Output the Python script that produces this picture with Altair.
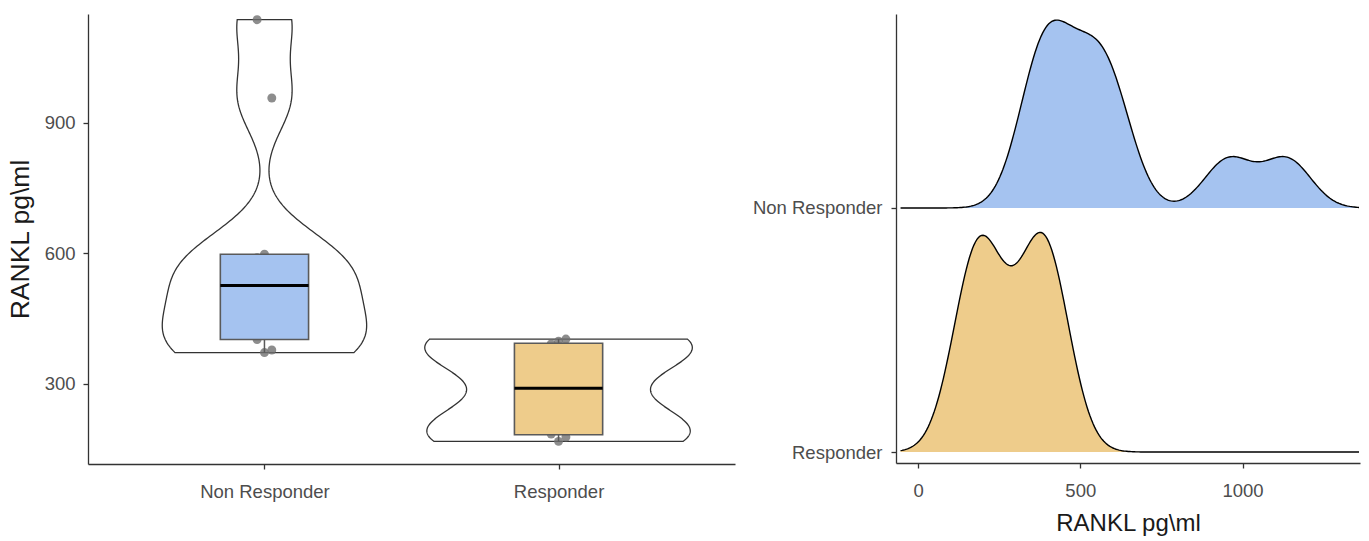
import json

import altair as alt
import pandas as pd

# RANKL concentrations (pg/ml) per response group
groups = ["Non Responder", "Responder"]
non_responder = [372, 378, 402, 475, 526, 590, 598, 957, 1137]
responder = [168, 178, 185, 230, 350, 392, 398, 403]
fill_colors = ["#A5C3F0", "#EECC8B"]
left_ticks = [300, 600, 900]
right_ticks = [0, 500, 1000]
value_title = "RANKL pg\\ml"

df = pd.DataFrame({
    "group": [groups[0]] * len(non_responder) + [groups[1]] * len(responder),
    "value": non_responder + responder,
})

GROUPS_JS = json.dumps(groups)
POS = f"(indexof({GROUPS_JS}, datum.group) + 1)"

# kernel bandwidths: one per violin, a joint one for the ridgelines
violin_bw = {"Non Responder": 77, "Responder": 64}
ridge_bw = 74
VIOLIN_SCALE = 151      # category units per unit of density (half width)
BOX_HALF = 0.15
RIDGE_SCALE = 0.9

FONT = "Liberation Sans"
fill_scale = alt.Scale(domain=groups, range=fill_colors)

# ---------------- left panel: violin + box + jittered points ----------------
y_left = alt.Scale(domain=[116, 1150], nice=False, zero=False)
x_left = alt.Scale(domain=[0.4, 2.6], nice=False, zero=False)
y_axis_left = alt.Axis(values=left_ticks, title=value_title, titlePadding=10, titleFontSize=26.5)
x_axis_left = alt.Axis(values=[1, 2], labelExpr=f"{GROUPS_JS}[datum.value - 1]", title=None,
                       labelPadding=13)


def violin(g):
    return (
        alt.Chart(df)
        .transform_filter(alt.datum.group == g)
        .transform_density("value", as_=["value", "density"], groupby=["group"],
                           bandwidth=violin_bw[g], steps=200)
        .transform_calculate(pos=POS)
        .transform_calculate(
            lo=f"datum.pos - {VIOLIN_SCALE} * datum.density",
            hi=f"datum.pos + {VIOLIN_SCALE} * datum.density",
        )
        .mark_area(orient="horizontal", fill="white", stroke="#333333", strokeWidth=1.3)
        .encode(
            y=alt.Y("value:Q", scale=y_left, axis=y_axis_left),
            x=alt.X("lo:Q", scale=x_left, axis=x_axis_left),
            x2="hi:Q",
        )
    )


points = (
    alt.Chart(df)
    .transform_window(rn="row_number()", groupby=["group"], sort=[alt.SortField("value")])
    .transform_calculate(px=f"{POS} + ((datum.rn % 3) - 1) * 0.025")
    .mark_circle(size=80, color="#707070", opacity=0.8)
    .encode(
        x=alt.X("px:Q", scale=x_left, axis=x_axis_left),
        y=alt.Y("value:Q", scale=y_left, axis=y_axis_left),
    )
)

stats = (
    alt.Chart(df)
    .transform_joinaggregate(q1="q1(value)", q3="q3(value)", med="median(value)", groupby=["group"])
    .transform_filter(
        "datum.value >= datum.q1 - 1.5 * (datum.q3 - datum.q1) && "
        "datum.value <= datum.q3 + 1.5 * (datum.q3 - datum.q1)"
    )
    .transform_aggregate(lo="min(value)", hi="max(value)", bq1="max(q1)", bq3="max(q3)",
                         bmed="max(med)", groupby=["group"])
    .transform_calculate(pos=POS)
    .transform_calculate(left=f"datum.pos - {BOX_HALF}", right=f"datum.pos + {BOX_HALF}")
)

whisker_lo = stats.mark_rule(color="#5a5a5a", strokeWidth=1.5).encode(
    x=alt.X("pos:Q", scale=x_left, axis=x_axis_left),
    y=alt.Y("lo:Q", scale=y_left, axis=y_axis_left), y2="bq1:Q")
whisker_hi = stats.mark_rule(color="#5a5a5a", strokeWidth=1.5).encode(
    x=alt.X("pos:Q", scale=x_left, axis=x_axis_left),
    y=alt.Y("bq3:Q", scale=y_left, axis=y_axis_left), y2="hi:Q")
box = stats.mark_rect(stroke="#5a5a5a", strokeWidth=1.6).encode(
    x=alt.X("left:Q", scale=x_left, axis=x_axis_left), x2="right:Q",
    y=alt.Y("bq1:Q", scale=y_left, axis=y_axis_left), y2="bq3:Q",
    fill=alt.Fill("group:N", scale=fill_scale, legend=None),
)
median = stats.mark_rule(color="black", strokeWidth=3).encode(
    x=alt.X("left:Q", scale=x_left, axis=x_axis_left), x2="right:Q",
    y=alt.Y("bmed:Q", scale=y_left, axis=y_axis_left),
)

left = alt.layer(
    violin(groups[0]), violin(groups[1]), points, whisker_lo, whisker_hi, box, median
).properties(width=647, height=450)

# ---------------- right panel: ridgeline densities ----------------
all_values = non_responder + responder
extent = [min(all_values) - 3 * ridge_bw, max(all_values) + 3 * ridge_bw]

x_right = alt.Scale(domain=[-68, 1362], nice=False, zero=False)
y_right = alt.Scale(domain=[-0.045, 1.795], nice=False, zero=False)
x_axis_right = alt.Axis(values=right_ticks, format="d", title=value_title, titlePadding=12,
                        labelPadding=13)
y_axis_right = alt.Axis(values=[0, 1], labelExpr=f"{json.dumps(groups[::-1])}[datum.value]",
                        title=None, labelPadding=9)

ridges = (
    alt.Chart(df)
    .transform_density("value", as_=["value", "density"], groupby=["group"],
                       bandwidth=ridge_bw, extent=extent, steps=300)
    .transform_joinaggregate(dmax="max(density)")
    .transform_calculate(base=f"{len(groups)} - {POS}")
    .transform_calculate(top=f"datum.base + {RIDGE_SCALE} * datum.density / datum.dmax")
)

ridge_fill = ridges.mark_area().encode(
    x=alt.X("value:Q", scale=x_right, axis=x_axis_right),
    y=alt.Y("top:Q", scale=y_right, axis=y_axis_right, stack=None),
    y2="base:Q",
    fill=alt.Fill("group:N", scale=fill_scale, legend=None),
)
ridge_line = ridges.mark_line(color="black", strokeWidth=1.4).encode(
    x=alt.X("value:Q", scale=x_right, axis=x_axis_right),
    y=alt.Y("top:Q", scale=y_right, axis=y_axis_right, stack=None),
    detail="group:N",
)

right = alt.layer(ridge_fill, ridge_line).properties(width=464, height=449)

chart = (
    alt.hconcat(left, right, spacing=17)
    .properties(padding={"left": 7, "top": 14, "right": 0, "bottom": 0}, background="white")
    .configure_view(stroke=None)
    .configure_axis(
        grid=False,
        domainColor="#333333",
        domainWidth=1.3,
        tickColor="#333333",
        tickWidth=1.3,
        tickSize=5,
        labelFont=FONT,
        labelFontSize=18.5,
        labelColor="#4D4D4D",
        labelPadding=8,
        titleFont=FONT,
        titleFontSize=24,
        titleFontWeight="normal",
        titleColor="#1A1A1A",
    )
)

chart.save("out.html", embed_options={"renderer": "svg", "actions": False})
